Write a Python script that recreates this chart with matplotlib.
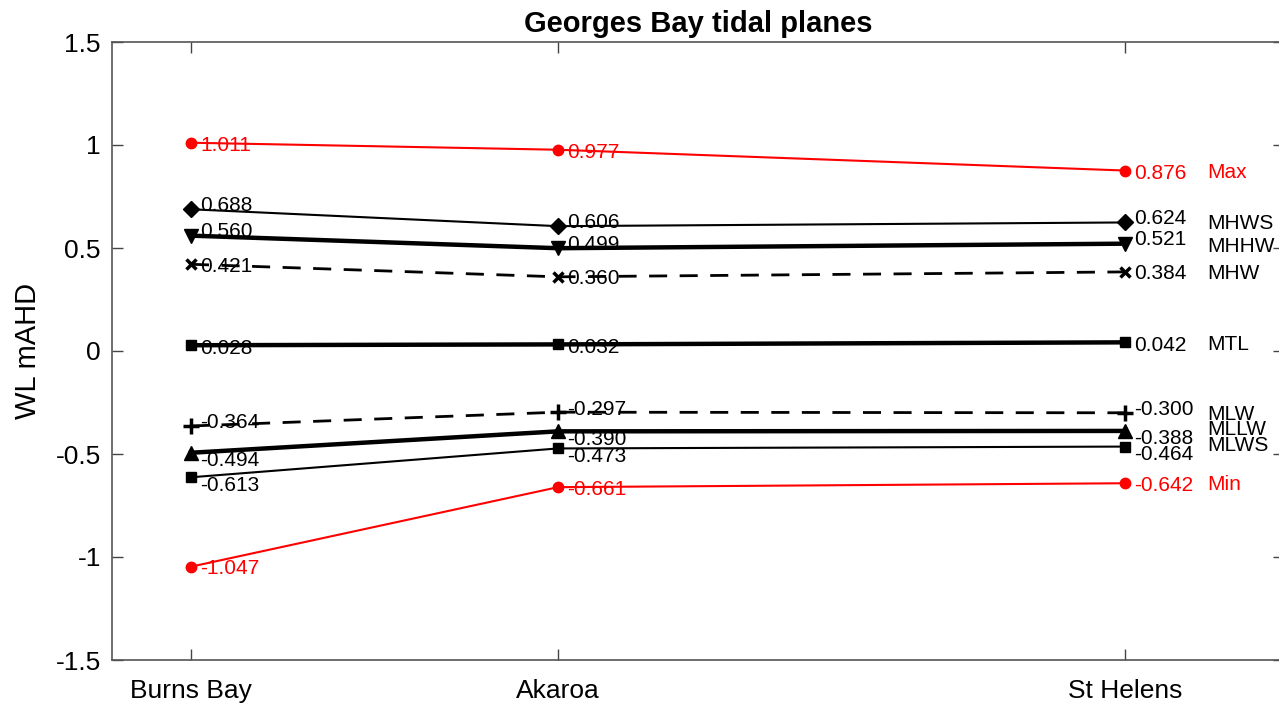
import matplotlib
matplotlib.use("Agg")
import matplotlib.pyplot as plt
import numpy as np

plt.rcParams['font.family'] = ['Liberation Sans', 'DejaVu Sans']
plt.rcParams['axes.unicode_minus'] = False

# sites along the bay (uneven spacing as in the original)
sites = ["Burns Bay", "Akaroa", "St Helens"]
site_x = [1.0, 2.0, 3.545]

# tidal planes, mAHD
names = ["Max", "MHWS", "MHHW", "MHW", "MTL", "MLW", "MLLW", "MLWS", "Min"]
max_wl = [1.011, 0.977, 0.876]
mhws = [0.688, 0.606, 0.624]
mhhw = [0.560, 0.499, 0.521]
mhw = [0.421, 0.360, 0.384]
mtl = [0.028, 0.032, 0.042]
mlw = [-0.364, -0.297, -0.300]
mllw = [-0.494, -0.390, -0.388]
mlws = [-0.613, -0.473, -0.464]
min_wl = [-1.047, -0.661, -0.642]
series = [max_wl, mhws, mhhw, mhw, mtl, mlw, mllw, mlws, min_wl]

# style per plane: colour, marker, markersize, linewidth, linestyle
styles = [
    ('red',   'o', 7.5, 1.5, '-'),
    ('black', 'D', 8.0, 1.5, '-'),
    ('black', 'v', 10,  3.2, '-'),
    ('black', 'x', 7.5, 2.0, (0, (6.5, 4.5))),
    ('black', 's', 6.5, 3.2, '-'),
    ('black', '+', 11,  2.0, (0, (6.5, 4.5))),
    ('black', '^', 10,  3.2, '-'),
    ('black', 's', 6.5, 1.5, '-'),
    ('red',   'o', 7.5, 1.5, '-'),
]
# vertical shift of value labels (px, + = down)
val_dy = [2.5, -4, -4, 2, 3, -3, 8, 8, 2]
name_dy = [2, 1, 3, 2, 2, 2, -1, -1, 1]

fig = plt.figure(figsize=(12.79, 7.06), dpi=100)
ax = fig.add_axes([112/1279, 1-660/706, (1284-112)/1279, (660-42)/706])

for vals, name, st, dv, dn in zip(series, names, styles, val_dy, name_dy):
    col, mk, ms, lw, ls = st
    mew = 2.5 if mk in ('x', '+') else 1
    ax.plot(site_x, vals, color=col, marker=mk, markersize=ms, linewidth=lw,
            linestyle=ls, markeredgewidth=mew)
    for x, v in zip(site_x, vals):
        ax.annotate('%.3f' % v, (x, v), xytext=(6.5, -dv*0.72),
                    textcoords='offset points', ha='left', va='center',
                    fontsize=15, color=col)
    ax.annotate(name, (site_x[-1], vals[-1]), xytext=(59, -dn*0.72),
                textcoords='offset points', ha='left', va='center',
                fontsize=15, color=col)

ax.set_xlim(1 - 79/367, 1 + (1284-191)/367)
ax.set_ylim(-1.5, 1.5)
ax.set_xticks(site_x)
ax.set_xticklabels(sites)
yt = np.arange(-1.5, 1.51, 0.5)
ax.set_yticks(yt)
ax.set_yticklabels(['%g' % t for t in yt])
ax.tick_params(direction='in', length=8, width=1, color='#444444',
               top=True, right=True, labelsize=19)
ax.tick_params(axis='x', pad=14)
ax.tick_params(axis='y', pad=8)
for s in ax.spines.values():
    s.set_color('#555555')
    s.set_linewidth(1.2)

ax.set_ylabel('WL mAHD', fontsize=21)
ax.yaxis.set_label_coords((42-112)/1172, 0.5)
ax.set_title('Georges Bay tidal planes', fontsize=21, fontweight='bold', pad=7)

plt.savefig('out.png', dpi=100)
